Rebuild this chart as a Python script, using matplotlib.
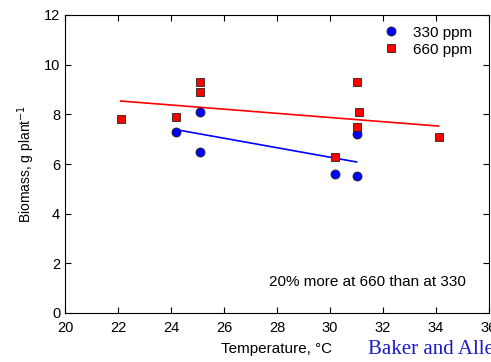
import matplotlib
matplotlib.use("Agg")
import matplotlib.pyplot as plt
import numpy as np

plt.rcParams['font.family'] = ['Liberation Sans', 'DejaVu Sans']

t330 = [24.2, 25.1, 25.1, 30.2, 31.0, 31.0]
b330 = [7.3, 8.1, 6.5, 5.6, 5.5, 7.2]
t660 = [22.1, 24.2, 25.1, 25.1, 30.2, 31.0, 31.1, 31.0, 34.1]
b660 = [7.8, 7.9, 9.3, 8.9, 6.3, 9.3, 8.1, 7.5, 7.1]
xticks = [20, 22, 24, 26, 28, 30, 32, 34, 36]
yticks = [0, 2, 4, 6, 8, 10, 12]

fig = plt.figure(figsize=(4.91, 3.62), dpi=100)
ax = fig.add_axes([65/491, 1-313/362, 424/491, 298/362])

for x, y, c in [(t330, b330, 'blue'), (t660, b660, 'red')]:
    p = np.polyfit(x, y, 1)
    xs = np.array([min(x), max(x)])
    ax.plot(xs, np.polyval(p, xs), color=c, lw=1.2, zorder=2)

ax.plot(t330, b330, 'o', color='blue', mec='#222222', mew=0.6, ms=6.5, ls='none', label='330 ppm', zorder=3)
ax.plot(t660, b660, 's', color='red', mec='#222222', mew=0.6, ms=5.5, ls='none', label='660 ppm', zorder=3)

ax.set_xlim(20, 36)
ax.set_ylim(0, 12)
ax.set_xticks(xticks)
ax.set_yticks(yticks)
ax.tick_params(direction='in', top=True, right=True, labelsize=10.5, length=4, width=0.8)
ax.tick_params(axis='x', pad=6)
for s in ax.spines.values():
    s.set_linewidth(0.8)

ax.set_xlabel('Temperature, °C', fontsize=11, labelpad=5)
ax.set_ylabel('Biomass, g plant$^{-1}$', fontsize=10, labelpad=5)

ax.legend(loc='upper right', frameon=False, fontsize=11, handletextpad=0.9,
          borderaxespad=0.3, handlelength=1.0, labelspacing=0.2, bbox_to_anchor=(0.985, 1.0))

ax.text(27.7, 1.1, '20% more at 660 than at 330', fontsize=11)
fig.text(368/491, 1-350/362, 'Baker and Allen', color='#1a1acc', fontsize=15,
         family='Liberation Serif', va='center')

fig.savefig('out.png', dpi=100)
